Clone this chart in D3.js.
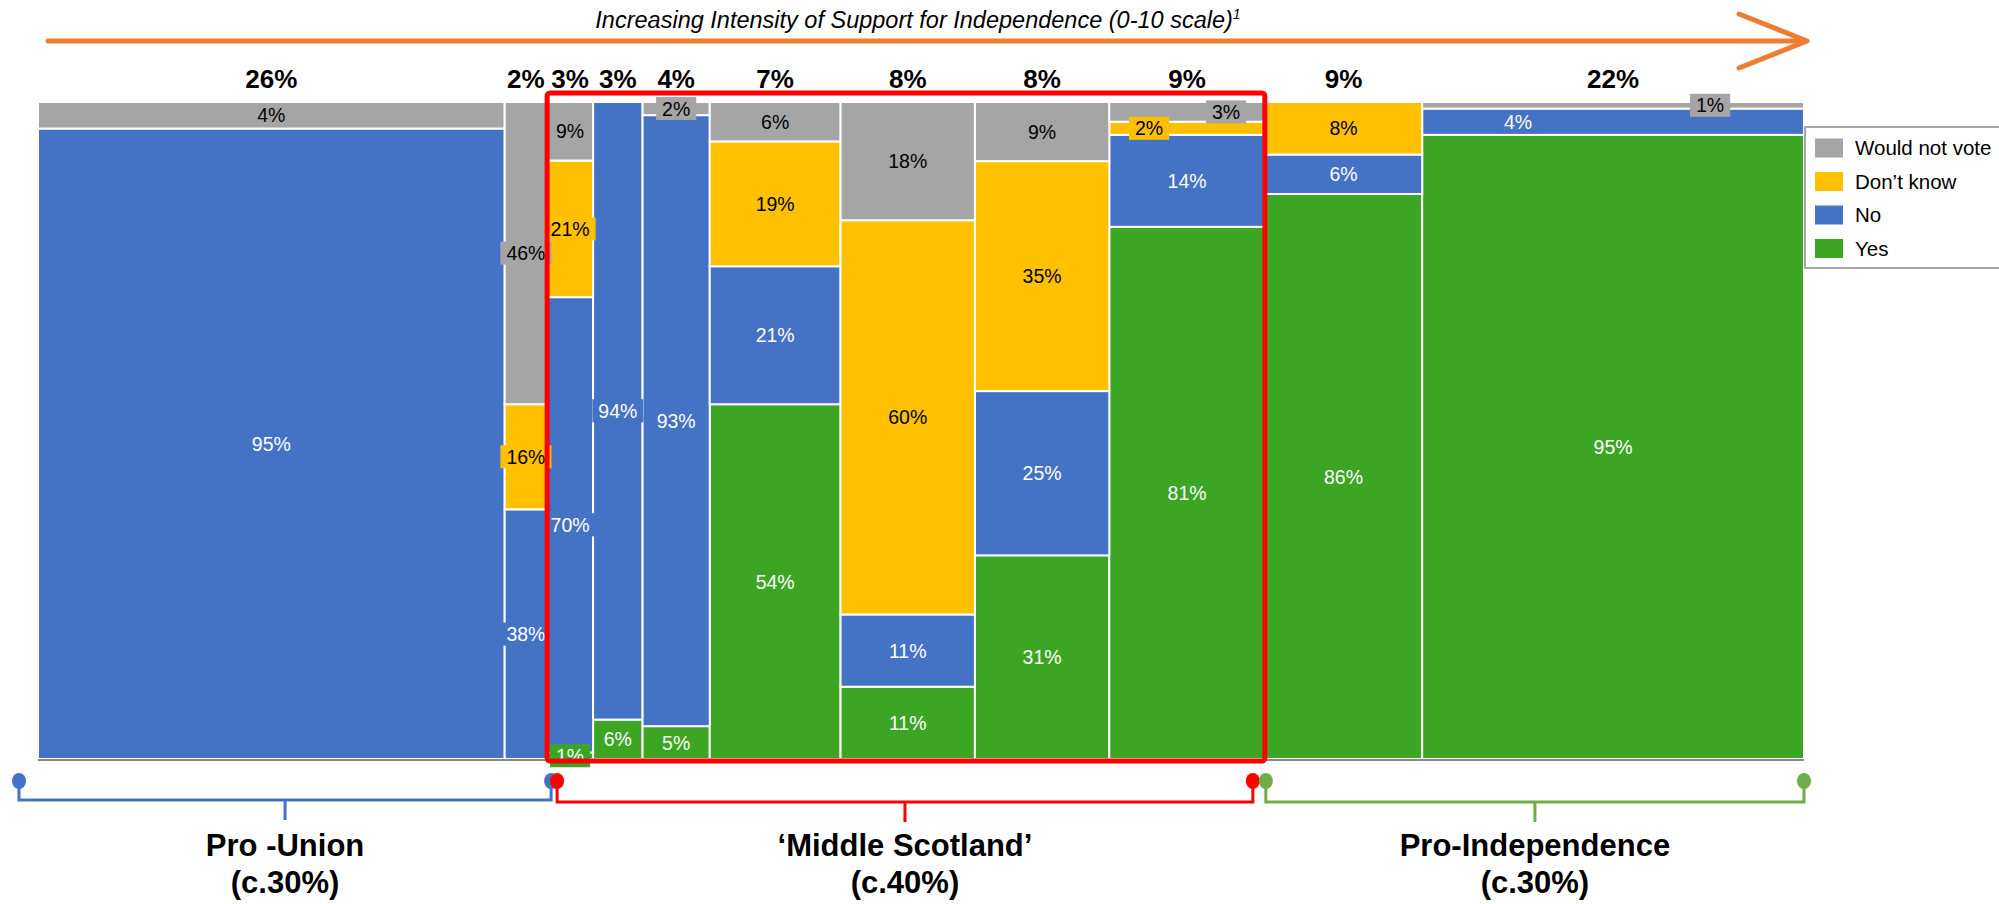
<!DOCTYPE html>
<html><head><meta charset="utf-8">
<script src="https://cdn.jsdelivr.net/npm/d3@7"></script>
<style>
body{margin:0;background:#fff;}
svg{display:block;font-family:"Liberation Sans",Arial,Helvetica,sans-serif;}
</style>
</head><body>
<svg id="chart" width="1999" height="904"></svg>
<script>
// ---------- DATA ----------
const scalePoints = ["0","1","2","3","4","5","6","7","8","9","10"];
const columnShare = [26.4, 2.4, 2.6, 2.8, 3.8, 7.4, 7.6, 7.6, 8.8, 8.9, 21.6];
const columnShareLabels = ["26%","2%","3%","3%","4%","7%","8%","8%","9%","9%","22%"];
const seriesNames = ["Yes","No","Don’t know","Would not vote"];
const yesValues          = [0, 0, 1, 6, 5, 54, 11, 31, 81, 86, 95];
const noValues           = [95,38,70,94,93,21, 11, 25, 14,  6,  4];
const dontKnowValues     = [0, 16,21, 0, 0, 19, 60, 35,  2,  8,  0];
const wouldNotVoteValues = [4, 46, 9, 0, 2,  6, 18,  9,  3,  0,  1];
const axisTitle = "Increasing Intensity of Support for Independence (0-10 scale)";
const axisTitleNote = "1";
const groupLines = [["Pro -Union","(c.30%)"],["‘Middle Scotland’","(c.40%)"],["Pro-Independence","(c.30%)"]];
const groupColumns = [[0,2],[2,9],[9,11]]; // [first column, end column)

// ---------- LAYOUT / STYLE ----------
const W = 1999, H = 904;
const plot = {left: 38, right: 1804, top: 102, bottom: 759};
const colors = {"Yes":"#3ca524","No":"#4472c4","Don’t know":"#ffc000","Would not vote":"#a5a5a5"};
const textColors = {"Yes":"#ffffff","No":"#ffffff","Don’t know":"#000000","Would not vote":"#000000"};
const labelNudge = {"8|Would not vote": 39, "8|Don’t know": -38, "10|Would not vote": 97, "10|No": -95};
const bracketColors = ["#4472c4","#ff0000","#70ad47"];
const bracketPad = [[-19, 4],[10,-12],[1,0]];

const svg = d3.select("#chart");

const seriesArrays = [yesValues, noValues, dontKnowValues, wouldNotVoteValues];
const table = scalePoints.map((p,i)=>{
  const r = {point:p, share:columnShare[i], idx:i};
  seriesNames.forEach((s,k)=> r[s] = seriesArrays[k][i]);
  return r;
});
let acc = 0;
table.forEach(r=>{ r.x0 = acc; acc += r.share; r.x1 = acc; });

const x = d3.scaleLinear().domain([0, acc]).range([plot.left, plot.right]);
const y = d3.scaleLinear().domain([0, 1]).range([plot.bottom, plot.top]);

const stacked = d3.stack().keys(seriesNames).offset(d3.stackOffsetExpand)(table);

// bars
const gBars = svg.append("g");
stacked.forEach(layer=>{
  gBars.selectAll(null).data(layer.filter(d=>d.data[layer.key]>0)).enter().append("rect")
    .attr("x", d=>x(d.data.x0)).attr("width", d=>x(d.data.x1)-x(d.data.x0))
    .attr("y", d=>y(d[1])).attr("height", d=>y(d[0])-y(d[1]))
    .attr("fill", colors[layer.key]).attr("stroke","#fff").attr("stroke-width",2);
});

// baseline axis
svg.append("line").attr("x1",plot.left).attr("x2",plot.right)
  .attr("y1",plot.bottom+1).attr("y2",plot.bottom+1)
  .attr("stroke","#898989").attr("stroke-width",2);

// segment labels
const gLab = svg.append("g").attr("font-size","19.5px");
stacked.forEach(layer=>{
  layer.forEach(d=>{
    const v = d.data[layer.key];
    if(!(v>0)) return;
    const key = d.data.idx+"|"+layer.key;
    const cx = (x(d.data.x0)+x(d.data.x1))/2 + (labelNudge[key]||0);
    const cy = (y(d[0])+y(d[1]))/2;
    const g = gLab.append("g");
    const rect = g.append("rect").attr("fill", colors[layer.key]);
    const t = g.append("text").attr("x",cx).attr("y",cy).attr("dy","0.36em")
      .attr("text-anchor","middle").attr("fill",textColors[layer.key]).text(v+"%");
    const w = t.node().getComputedTextLength();
    rect.attr("x",cx-w/2-6).attr("width",w+12).attr("y",cy-11.5).attr("height",23);
  });
});

// column share headers
svg.append("g").selectAll("text").data(table).enter().append("text")
  .attr("x", d=>(x(d.x0)+x(d.x1))/2).attr("y", 88)
  .attr("text-anchor","middle").attr("font-weight","bold").attr("font-size","26px")
  .text((d,i)=>columnShareLabels[i]);

// red box (Middle Scotland)
svg.append("rect")
  .attr("x", x(table[2].x0)).attr("width", x(table[8].x1)-x(table[2].x0))
  .attr("y", plot.top-9).attr("height", plot.bottom-plot.top+11)
  .attr("fill","none").attr("stroke","#ff0000").attr("stroke-width",5).attr("rx",3);

// orange arrow + title
const arrowY = 41;
svg.append("line").attr("x1",48).attr("x2",1806).attr("y1",arrowY).attr("y2",arrowY)
  .attr("stroke","#ed7d31").attr("stroke-width",5).attr("stroke-linecap","round");
svg.append("path").attr("d",`M1739,14 L1807,${arrowY} L1739,68`)
  .attr("fill","none").attr("stroke","#ed7d31").attr("stroke-width",5)
  .attr("stroke-linecap","round").attr("stroke-linejoin","round");
const tt = svg.append("text").attr("x",918).attr("y",28).attr("text-anchor","middle")
  .attr("font-style","italic").attr("font-size","23.5px").attr("fill","#000");
tt.append("tspan").text(axisTitle);
tt.append("tspan").attr("font-size","14px").attr("dy","-9").text(axisTitleNote);

// brackets
const gBr = svg.append("g");
groupColumns.forEach((gc,k)=>{
  const col = bracketColors[k];
  const xl = x(table[gc[0]].x0)+bracketPad[k][0];
  const xr = x(table[gc[1]-1].x1)+bracketPad[k][1];
  const hy = k===0 ? 800 : 802;
  const xm = (xl+xr)/2;
  gBr.append("path").attr("d",`M${xl},782 V${hy} H${xr} V782 M${xm},${hy} V${hy+20}`)
    .attr("fill","none").attr("stroke",col).attr("stroke-width",3);
  [xl,xr].forEach(px=>{
    gBr.append("ellipse").attr("cx",px).attr("cy",781).attr("rx",7).attr("ry",8).attr("fill",col);
  });
  const lbl = svg.append("text").attr("x",xm).attr("text-anchor","middle")
    .attr("font-weight","bold").attr("font-size","31px");
  lbl.append("tspan").attr("x",xm).attr("y",856).text(groupLines[k][0]);
  lbl.append("tspan").attr("x",xm).attr("y",893).text(groupLines[k][1]);
});

// legend
const leg = svg.append("g");
leg.append("rect").attr("x",1805).attr("y",127).attr("width",260).attr("height",141)
  .attr("fill","#fff").attr("stroke","#a6a6a6").attr("stroke-width",2);
const legOrder = seriesNames.slice().reverse();
legOrder.forEach((s,i)=>{
  const cy = 148 + i*33.5;
  leg.append("rect").attr("x",1815).attr("y",cy-9.5).attr("width",28).attr("height",19).attr("fill",colors[s]);
  leg.append("text").attr("x",1855).attr("y",cy).attr("dy","0.36em").attr("font-size","20.5px").text(s);
});
</script>
</body></html>
